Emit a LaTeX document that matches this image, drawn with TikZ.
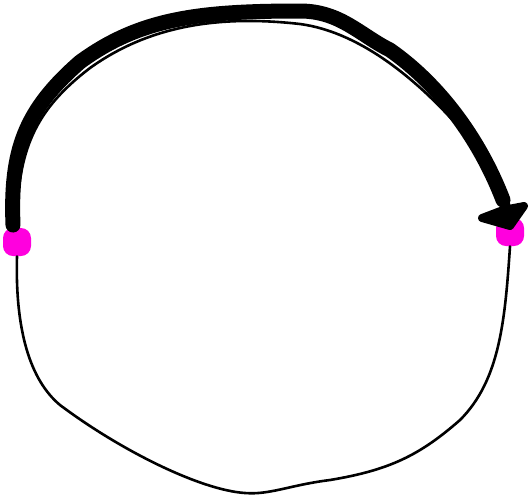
\documentclass[tikz,border=0pt]{standalone}
\definecolor{hotmag}{RGB}{255,0,222}
\begin{document}
\begin{tikzpicture}[x=0.5pt,y=-0.5pt,
  thin line/.style={line width=1.3pt,line join=round,line cap=round},
  thick line/.style={line width=7.5pt,line join=round,line cap=round},
  dot/.style={rounded corners=5pt,fill=hotmag,inner sep=0pt,minimum size=14pt}]
\useasboundingbox (0,0) rectangle (529,500);
\node[dot] (L) at (17,242) {};
\node[dot] (R) at (510,232) {};
% thin circle
\draw[thin line] (L.north) .. controls (17,150) and (35,110) .. (90,68)
  .. controls (150,25) and (220,15) .. (300,24)
  .. controls (360,32) and (420,80) .. (470,140)
  .. controls (500,180) and (512,200) .. (R.north);
\draw[thin line] (R.south) .. controls (505,320) and (500,380) .. (460,420)
  .. controls (420,455) and (390,470) .. (330,480)
  .. controls (290,485) and (270,495) .. (245,493)
  .. controls (200,490) and (120,450) .. (60,405)
  .. controls (30,380) and (15,330) .. (L.south);
% thick arrow arc
\coordinate (T) at (503,200);
\draw[thick line] (13,225) .. controls (10,150) and (25,110) .. (80,62)
  .. controls (140,18) and (200,11) .. (300,11)
  .. controls (340,11) and (360,35) .. (390,50)
  .. controls (440,85) and (480,140) .. (T);
\fill[line join=round,draw,line width=4pt] (482,218) -- (510,226) -- (524,206) -- (503,210) -- cycle;
\end{tikzpicture}
\end{document}
